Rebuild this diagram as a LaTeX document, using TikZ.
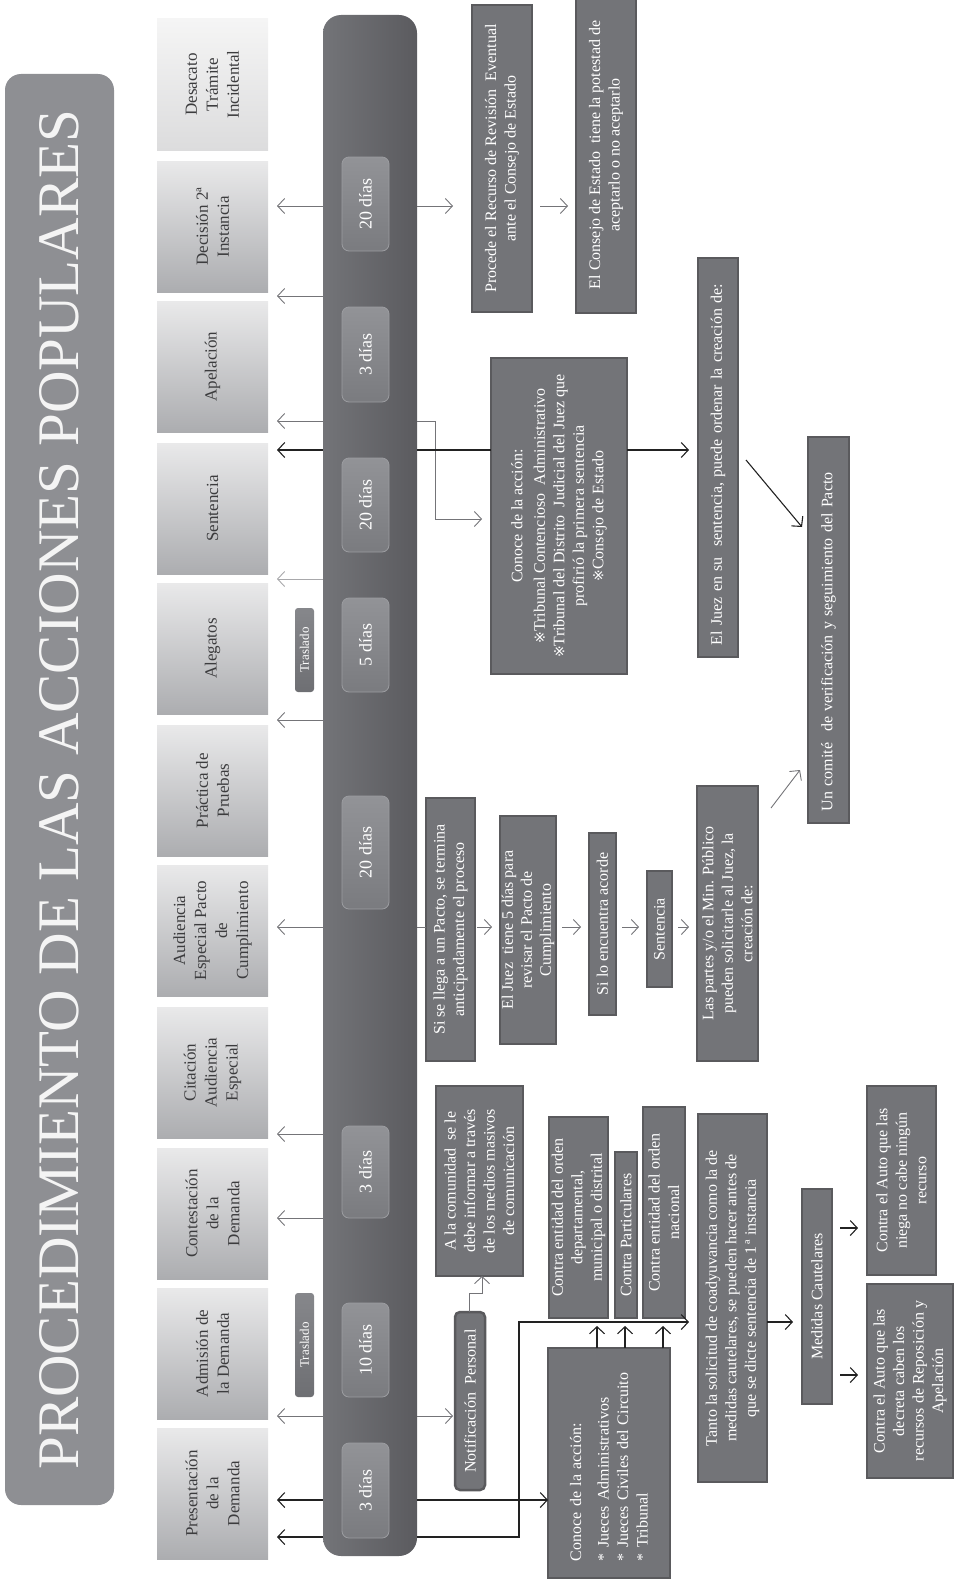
\documentclass[tikz,border=0pt]{standalone}
\usepackage{fontspec}
\setmainfont{Liberation Serif}
\newfontfamily\dejavu{DejaVu Sans}
\usepackage{graphicx}
\usetikzlibrary{arrows.meta,calc}
\definecolor{ttl}{HTML}{8E8F93}
\definecolor{ttlT}{HTML}{F4F4F4}
\definecolor{stL}{HTML}{E9E9EA}
\definecolor{stR}{HTML}{ACADB0}
\definecolor{stLb}{HTML}{F5F5F5}
\definecolor{stRb}{HTML}{DCDCDD}
\definecolor{stT}{HTML}{3C3C3E}
\definecolor{barL}{HTML}{737478}
\definecolor{barR}{HTML}{5B5B5F}
\definecolor{dayL}{HTML}{929397}
\definecolor{dayR}{HTML}{7A7B7F}
\definecolor{dayD}{HTML}{9C9DA1}
\definecolor{trL}{HTML}{86878B}
\definecolor{trR}{HTML}{6E6F73}
\definecolor{bxF}{HTML}{737478}
\definecolor{bxD}{HTML}{5A5A5D}
\definecolor{arG}{HTML}{747478}
\definecolor{arL}{HTML}{A8A8AB}
\definecolor{arB}{HTML}{222222}
\begin{document}
\begin{tikzpicture}[x=1pt,y=-1pt,
  vrt/.style={rotate=90,inner sep=0pt,outer sep=0pt,align=center},
  stage/.style={vrt,top color=stL,bottom color=stR,text=stT,font=\fontsize{17}{21}\selectfont,minimum width=131pt,minimum height=111pt},
  stagelight/.style={stage,top color=stLb,bottom color=stRb},
  daybox/.style={vrt,rounded corners=7pt,top color=dayL,bottom color=dayR,draw=dayD,line width=0.8pt,text=white,font=\fontsize{18}{20}\selectfont,minimum height=47pt},
  tras/.style={vrt,rounded corners=3pt,top color=trL,bottom color=trR,text=white,font=\fontsize{13}{15}\selectfont,minimum height=19pt},
  dbox/.style={vrt,fill=bxF,draw=bxD,line width=2.5pt,text=white,font=\fontsize{16}{19.5}\selectfont},
  arr/.style={draw=arG,line width=0.9pt,-{Straight Barb[length=7pt,width=15pt]}},
  blk/.style={arr,draw=arB,line width=1.1pt},
]
\useasboundingbox (0,0) rectangle (960,1584);
\clip (0,0) rectangle (960,1584);

% title
\node[vrt,fill=ttl,rounded corners=16pt,minimum width=1431pt,minimum height=109pt,text=ttlT] (title) at (59.5,789.5)
  {\resizebox{1360pt}{!}{\fontsize{50}{50}\selectfont PROCEDIMIENTO DE LAS ACCIONES POPULARES}};

% stages
\node[stagelight] (s1) at (212.5,84.5) {Desacato\\Trámite\\Incidental};
\node[stage] (s2) at (212.5,226.5) {Decisión 2ª\\Instancia};
\node[stage] (s3) at (212.5,366.5) {Apelación};
\node[stage] (s4) at (212.5,508.5) {Sentencia};
\node[stage] (s5) at (212.5,648.5) {Alegatos};
\node[stage] (s6) at (212.5,790.5) {Práctica de\\Pruebas};
\node[stage] (s7) at (212.5,930.5) {Audiencia\\Especial Pacto\\de\\Cumplimiento};
\node[stage] (s8) at (212.5,1072.5) {Citación\\Audiencia\\Especial};
\node[stage] (s9) at (212.5,1213.5) {Contestación\\de la\\Demanda};
\node[stage] (s10) at (212.5,1353.5) {Admisión de\\la Demanda};
\node[stage] (s11) at (212.5,1493.5) {Presentación\\de la\\Demanda};

% traslado
\node[tras,minimum width=84pt] (t1) at (304.5,650) {Traslado};
\node[tras,minimum width=104pt] (t2) at (304.5,1345) {Traslado};

% bar
\node[rounded corners=18pt,left color=barL,right color=barR,minimum width=94pt,minimum height=1541pt,inner sep=0pt,outer sep=0pt] (bar) at (370,785.5) {};

% days
\node[daybox,minimum width=94pt] (d1) at (365.5,204) {20 días};
\node[daybox,minimum width=95pt] (d2) at (365.5,354.5) {3 días};
\node[daybox,minimum width=94pt] (d3) at (365.5,505) {20 días};
\node[daybox,minimum width=94pt] (d4) at (365.5,645) {5 días};
\node[daybox,minimum width=113pt] (d5) at (365.5,852.5) {20 días};
\node[daybox,minimum width=92pt] (d6) at (365.5,1172) {3 días};
\node[daybox,minimum width=94pt] (d7) at (365.5,1350) {10 días};
\node[daybox,minimum width=95pt] (d8) at (365.5,1490.5) {3 días};

% upper boxes
\node[dbox,minimum width=307pt,minimum height=60pt] (proc) at (502,158.5) {Procede el Recurso de Revisión\ \ Eventual\\ante el Consejo de Estado};
\node[dbox,minimum width=316pt,minimum height=60pt] (consejo) at (606,155) {El Consejo de Estado\ \ tiene la potestad de\\aceptarlo o no aceptarlo};
\node[dbox,minimum width=316pt,minimum height=136pt] (conA) at (559,516) {Conoce de la acción:\\[3pt]{\dejavu\fontsize{14}{19}\selectfont ※}Tribunal Contencioso\ \ Administrativo\\{\dejavu\fontsize{14}{19}\selectfont ※}Tribunal del Distrito\ \ Judicial del Juez que\\profirió la primera sentencia\\{\dejavu\fontsize{14}{19}\selectfont ※}Consejo de Estado};
\node[dbox,minimum width=399pt,minimum height=40pt,text width=375pt,align=left] (juez) at (718,457.5) {El Juez en su\ \ sentencia, puede ordenar la creación de:};
\node[dbox,minimum width=386pt,minimum height=41pt,text width=362pt,align=left] (comite) at (828.5,630) {Un comité\ \ de verificación y seguimiento del Pacto};

% middle chain
\node[dbox,minimum width=263pt,minimum height=49pt] (pacto) at (450.5,929.5) {Si se llega a un Pacto, se termina\\anticipadamente el proceso};
\node[dbox,minimum width=228pt,minimum height=56pt,font=\fontsize{16}{19}\selectfont] (revisa) at (528,930) {El Juez\ \ tiene 5 días para\\revisar el Pacto de\\Cumplimiento};
\node[dbox,minimum width=182pt,minimum height=27pt] (acorde) at (602.5,924) {Si lo encuentra acorde};
\node[dbox,minimum width=116pt,minimum height=25pt] (sentB) at (659.5,929) {Sentencia};
\node[dbox,minimum width=275pt,minimum height=61pt] (partes) at (727.5,923.5) {Las partes y/o el Min. Público\\pueden solicitarle al Juez, la\\creación de:};

% lower boxes
\node[dbox,minimum width=190pt,minimum height=87pt] (comun) at (479.5,1181) {A la comunidad\ \ se le\\debe informar a través\\de los medios masivos\\de comunicación};
\node[dbox,rounded corners=5pt,minimum width=178pt,minimum height=30pt] (notif) at (470,1401) {Notificación\ \ Personal};
\node[dbox,minimum width=201pt,minimum height=59pt] (dept) at (578.5,1217.5) {Contra entidad del orden\\departamental,\\municipal o distrital};
\node[dbox,minimum width=166pt,minimum height=22pt] (part) at (626,1235) {Contra Particulares};
\node[dbox,minimum width=211pt,minimum height=42pt] (nac) at (664,1212.5) {Contra entidad del orden\\nacional};
\node[dbox,minimum width=230pt,minimum height=122pt,text width=196pt,align=left] (conB) at (609,1463) {Conoce de la acción:\\[8pt]{*} Jueces Administrativos\\{*} Jueces Civiles del Circuito\\{*} Tribunal};
\node[dbox,minimum width=368pt,minimum height=69pt] (tanto) at (732.5,1298) {Tanto la solicitud de coadyuvancia como la de\\medidas cautelares, se pueden hacer antes de\\que se dicte sentencia de 1\,ª instancia};
\node[dbox,minimum width=215pt,minimum height=30pt] (medidas) at (817,1296.5) {Medidas Cautelares};
\node[dbox,minimum width=189pt,minimum height=69pt] (niega) at (901.5,1180.5) {Contra el Auto que las\\niega no cabe ningún\\recurso};
\node[dbox,minimum width=194pt,minimum height=86pt] (decreta) at (910,1381) {Contra el Auto que las\\decreta caben los\\recursos de Reposición y\\Apelación};

% left arrows: bar -> stages
\draw[arr,shorten >=9pt] (bar.west |- 0,206) -- (s2.south |- 0,206);
\draw[arr,shorten >=9pt] (bar.west |- 0,296) -- (s3.south |- 0,296);
\draw[arr,shorten >=9pt] (bar.west |- 0,421) -- (s3.south |- 0,421);
\draw[blk,shorten >=9pt] (bar.west |- 0,450) -- (s4.south |- 0,450);
\draw[arr,draw=arL,shorten >=9pt] (bar.west |- 0,579) -- (s5.south |- 0,579);
\draw[arr,shorten >=9pt] (bar.west |- 0,720) -- (s6.south |- 0,720);
\draw[arr,shorten >=9pt] (bar.west |- 0,927) -- (s7.south |- 0,927);
\draw[arr,shorten >=9pt] (bar.west |- 0,1134) -- (s8.south |- 0,1134);
\draw[arr,shorten >=9pt] (bar.west |- 0,1218) -- (s9.south |- 0,1218);
\draw[arr,shorten >=9pt] (bar.west |- 0,1416) -- (s10.south |- 0,1416);
\draw[blk,shorten >=9pt] (bar.west |- 0,1500) -- (s11.south |- 0,1500);
\draw[blk,shorten >=9pt] (bar.west |- 0,1537) -- (s11.south |- 0,1537);

% right upper
\draw[arr,shorten >=19pt] (bar.east |- 0,206) -- (proc.north |- 0,206);
\draw[arr,shorten <=8pt,shorten >=8pt] (proc.south |- 0,206) -- (consejo.north |- 0,206);
\draw[arr,shorten >=9pt] (bar.east |- 0,421) -- ++(18.5,0) |- (conA.north |- 0,519);
\draw[blk,-] (bar.east |- 0,450) -- (conA.north |- 0,450);
\draw[blk,shorten >=9pt] (conA.south |- 0,450) -- (juez.north |- 0,450);
\draw[blk] ($(juez.south |- 0,460)+(8,0)$) -- ($(comite.north |- 0,527)+(-6,0)$);
\draw[arr] ($(partes.south |- 0,808)+(13,0)$) -- ($(comite.north |- 0,770)+(-8,0)$);

% middle chain
\draw[arr,-] (bar.east |- 0,927) -- (pacto.north |- 0,927);
\draw[arr,shorten <=2pt,shorten >=8pt] (pacto.south |- 0,927) -- (revisa.north |- 0,927);
\draw[arr,shorten <=6pt,shorten >=8pt] (revisa.south |- 0,927) -- (acorde.north |- 0,927);
\draw[arr,shorten <=6pt,shorten >=8pt] (acorde.south |- 0,927) -- (sentB.north |- 0,927);
\draw[arr,shorten <=6pt,shorten >=8pt] (sentB.south |- 0,927) -- (partes.north |- 0,927);

% lower
\draw[arr,shorten >=2pt] (bar.east |- 0,1416) -- (notif.north |- 0,1416);
\draw[arr] (notif.east -| 469,0) -- ++(0,-19) -- ++(13,0) -- (comun.west -| 482,0);
\draw[blk] (bar.east |- 0,1500) -- (conB.north |- 0,1500);
\draw[blk,shorten >=9pt] (bar.east |- 0,1537) -| (519,1322) -- (tanto.north |- 0,1322);
\draw[blk,shorten >=8pt] (conB.east -| 597,0) -- (dept.west -| 597,0);
\draw[blk,shorten >=8pt] (conB.east -| 625,0) -- (part.west -| 625,0);
\draw[blk,shorten >=8pt] (conB.east -| 663,0) -- (nac.west -| 663,0);
\draw[blk,shorten >=9pt] (tanto.south |- 0,1322) -- (medidas.north |- 0,1322);
\draw[blk,shorten <=8pt,shorten >=9pt] (medidas.south |- 0,1228) -- (niega.north |- 0,1228);
\draw[blk,shorten <=8pt,shorten >=9pt] (medidas.south |- 0,1375) -- (decreta.north |- 0,1375);
\end{tikzpicture}
\end{document}
